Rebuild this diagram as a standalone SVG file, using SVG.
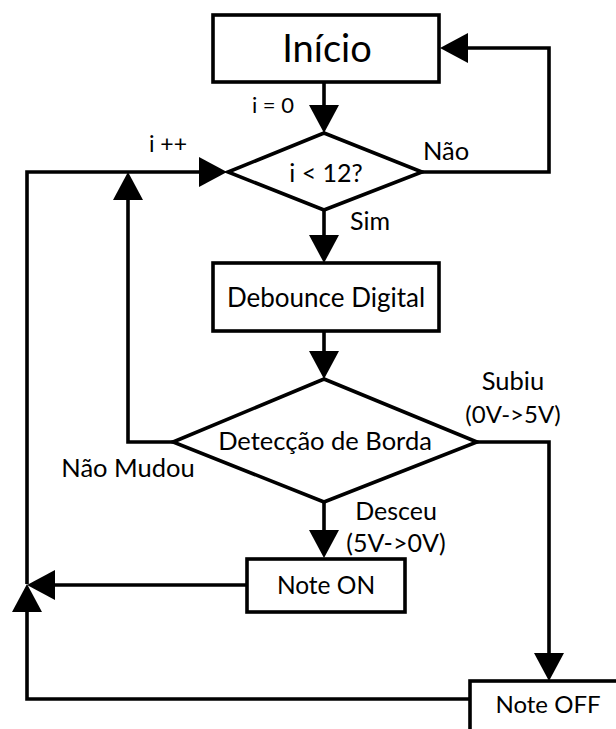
<svg xmlns="http://www.w3.org/2000/svg" width="616" height="729" viewBox="0 0 616 729">
<style>
.shape{fill:#fff;stroke:#000;stroke-width:3.6}
.conn{fill:none;stroke:#000;stroke-width:3.6;marker-end:url(#arr)}
text{font-family:Lato,"Open Sans",sans-serif;fill:#000;text-anchor:middle}
</style>
<defs>
<marker id="arr" viewBox="0 0 28 30" refX="14" refY="15" markerWidth="28" markerHeight="30" markerUnits="userSpaceOnUse" orient="auto">
<path d="M0,0 L28,15 L0,30 z" fill="#000"/>
</marker>
</defs>
<g id="connectors">
<path class="conn" d="M324,82 V119"/>
<path class="conn" d="M422,172 H549 V48 H454"/>
<path class="conn" d="M27,584 V172 H213"/>
<path class="conn" d="M470,699 H27 V598"/>
<path class="conn" d="M173,442 H128 V186"/>
<path class="conn" d="M324,210 V249"/>
<path class="conn" d="M324,331 V365"/>
<path class="conn" d="M477,442 H549 V667"/>
<path class="conn" d="M324,502 V544"/>
<path class="conn" d="M247,585 H41"/>
</g>
<g id="inicio">
<rect class="shape" x="213" y="15" width="226" height="67"/>
<text x="327" y="62" font-size="38">Início</text>
</g>
<g id="cond12">
<polygon class="shape" points="324,133 422,172 324,210 228,172"/>
<text x="326" y="182" font-size="25">i &lt; 12?</text>
</g>
<g id="debounce">
<rect class="shape" x="213" y="263" width="226" height="68"/>
<text x="326" y="307" font-size="26">Debounce Digital</text>
</g>
<g id="borda">
<polygon class="shape" points="324,379 477,442 324,502 173,442"/>
<text x="325" y="450" font-size="25.5">Detecção de Borda</text>
</g>
<g id="noteon">
<rect class="shape" x="247" y="559" width="158" height="53"/>
<text x="326" y="594" font-size="24.5">Note ON</text>
</g>
<g id="noteoff">
<rect class="shape" x="470" y="681" width="160" height="60"/>
<text x="548" y="713" font-size="24">Note OFF</text>
</g>
<g id="labels">
<text x="273" y="113" font-size="22">i = 0</text>
<text x="446" y="160" font-size="25.5">Não</text>
<text x="168" y="152" font-size="23">i ++</text>
<text x="370" y="230" font-size="25">Sim</text>
<text x="513" y="390" font-size="25.5">Subiu</text>
<text x="513" y="423" font-size="24">(0V-&gt;5V)</text>
<text x="128" y="477" font-size="25.5">Não Mudou</text>
<text x="396" y="520" font-size="25">Desceu</text>
<text x="396" y="552" font-size="25">(5V-&gt;0V)</text>
</g>
</svg>
